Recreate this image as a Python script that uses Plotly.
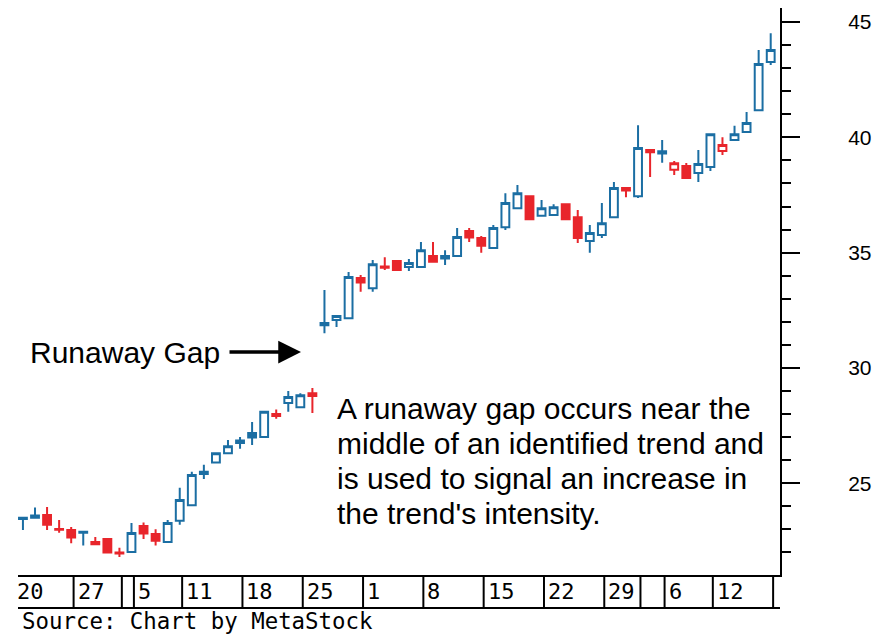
import plotly.graph_objects as go

# ---- data: one candle per trading day (index 0..62) ----
opens = [23.45, 23.5, 23.62, 23.02, 22.97, 22.85, 22.45, 22.58, 22.0, 22.02,
         23.15, 22.8, 22.45, 23.37, 24.05, 25.4, 25.9, 26.3, 26.75, 27.18,
         27.0, 28.0, 28.48, 28.3, 28.9, 31.95, 32.08, 32.16, 33.9, 33.46,
         34.4, 34.64, 34.38, 34.38, 34.85, 34.85, 34.85, 35.94, 35.63, 35.2,
         36.1, 36.93, 37.45, 36.6, 36.63, 37.1, 36.54, 35.5, 35.76, 36.54,
         37.8, 37.45, 39.45, 39.3, 38.6, 38.76, 38.45, 38.71, 39.41, 39.88,
         40.23, 41.18, 43.27]
highs = [23.5, 23.95, 23.97, 23.4, 23.1, 22.92, 22.67, 22.6, 22.2, 23.27,
         23.3, 23.0, 23.4, 24.8, 25.5, 25.8, 26.3, 26.87, 27.0, 27.65,
         28.1, 28.2, 29.0, 28.9, 29.13, 33.38, 32.25, 34.16, 34.03, 34.68,
         34.8, 34.64, 34.72, 35.46, 35.46, 35.1, 36.07, 36.07, 35.72, 36.2,
         37.58, 37.93, 37.45, 37.28, 37.1, 37.1, 36.85, 36.2, 37.15, 38.06,
         37.8, 40.53, 39.45, 39.88, 38.97, 38.89, 39.45, 40.14, 40.0, 40.5,
         41.1, 43.79, 44.52]
lows = [22.97, 23.5, 22.97, 22.85, 22.4, 22.3, 22.33, 21.98, 21.8, 22.0,
        22.58, 22.3, 22.45, 23.2, 24.05, 25.18, 25.9, 26.3, 26.5, 26.66,
        27.0, 27.8, 28.1, 28.3, 28.05, 31.5, 31.77, 32.16, 33.3, 33.3,
        34.25, 34.25, 34.2, 34.38, 34.6, 34.46, 34.85, 35.46, 35.0, 35.2,
        35.98, 36.93, 36.45, 36.6, 36.63, 36.45, 35.42, 35.0, 35.63, 36.54,
        37.4, 37.37, 38.28, 38.9, 38.37, 38.24, 38.06, 38.54, 39.23, 39.88,
        40.23, 41.18, 43.14]
closes = [23.5, 23.6, 23.2, 22.98, 22.65, 22.9, 22.35, 22.0, 21.95, 22.84,
          22.82, 22.5, 23.27, 24.27, 25.36, 25.5, 26.3, 26.6, 26.85, 26.98,
          28.1, 27.92, 28.74, 28.82, 28.78, 31.85, 32.25, 33.94, 33.7, 34.5,
          34.35, 34.25, 34.55, 35.1, 34.6, 34.75, 35.68, 35.66, 35.3, 36.07,
          37.15, 37.58, 36.45, 36.93, 36.97, 36.45, 35.63, 35.85, 36.28, 37.8,
          37.7, 39.54, 39.35, 39.4, 38.88, 38.24, 38.84, 40.14, 39.67, 40.14,
          40.62, 43.18, 43.79]

week_labels = ["20", "27", "5", "11", "18", "25", "1", "8", "15", "22", "29", "6", "12"]
week_start_idx = [0, 5, 10, 14, 19, 24, 29, 34, 39, 44, 49, 54, 58]
month_start_idx = [9, 52]
end_idx = 63

y_major = [25, 30, 35, 40, 45]

note_lines = ["A runaway gap occurs near the",
              "middle of an identified trend and",
              "is used to signal an increase in",
              "the trend's intensity."]

BLUE = "#1b6ea3"
RED = "#e8252b"

# ---- geometry (page pixels; the page body has an 8px margin) ----
PAGE_W, PAGE_H = 886, 636
OFF = 8
PLOT_L, PLOT_R, PLOT_T, PLOT_B = 18, 780, 8, 575
W, H = PAGE_W - OFF, PAGE_H - OFF
ML, MT = PLOT_L - OFF, PLOT_T - OFF
MR, MB = PAGE_W - PLOT_R, PAGE_H - PLOT_B
PW, PH = PLOT_R - PLOT_L, PLOT_B - PLOT_T
XR = [-0.41, 62.77]
YR = [21.02, 45.61]


def px_x(px):
    return (px - PLOT_L) / PW


def px_y(py):
    return (PLOT_B - py) / PH


def idx_x(i):
    return (i - XR[0]) / (XR[1] - XR[0])


SEP = 0.8  # separator sits this far left of a week's first candle

n = len(closes)
days = list(range(n))
up_day = [i == 0 or closes[i] >= closes[i - 1] for i in days]

fig = go.Figure()
for flag, col in ((True, BLUE), (False, RED)):
    ids = [i for i in days if up_day[i] == flag]
    fig.add_trace(go.Candlestick(
        x=ids,
        open=[opens[i] for i in ids],
        high=[highs[i] for i in ids],
        low=[lows[i] for i in ids],
        close=[closes[i] for i in ids],
        increasing=dict(line=dict(color=col, width=2), fillcolor="white"),
        decreasing=dict(line=dict(color=col, width=2), fillcolor=col),
        whiskerwidth=0, hoverinfo="skip", showlegend=False,
    ))

shapes = []
box_bottom = px_y(608)
for s in week_start_idx[1:] + month_start_idx + [end_idx]:
    xp = idx_x(s - SEP)
    shapes.append(dict(type="line", xref="paper", yref="paper", x0=xp, x1=xp,
                       y0=0, y1=box_bottom, line=dict(color="black", width=2)))
shapes.append(dict(type="line", xref="paper", yref="paper", x0=0, x1=1,
                   y0=box_bottom, y1=box_bottom, line=dict(color="black", width=2)))

annotations = []
for lab, s in zip(week_labels, week_start_idx):
    annotations.append(dict(text=lab, xref="paper", yref="paper", x=idx_x(s - SEP), xshift=2,
                            y=px_y(591.5), xanchor="left", yanchor="middle", showarrow=False,
                            font=dict(family="DejaVu Sans Mono", size=22, color="black")))

annotations.append(dict(text="Source: Chart by MetaStock", xref="paper", yref="paper",
                        x=px_x(20), y=px_y(621), xanchor="left", yanchor="middle",
                        showarrow=False,
                        font=dict(family="DejaVu Sans Mono", size=22.4, color="black")))

annotations.append(dict(text="Runaway Gap", xref="paper", yref="paper",
                        x=px_x(28), y=px_y(352), xanchor="left", yanchor="middle",
                        showarrow=False,
                        font=dict(family="Liberation Sans, Arial", size=30, color="black")))
annotations.append(dict(text="", xref="paper", yref="paper", x=px_x(301), y=px_y(352),
                        ax=-73, ay=0, showarrow=True, arrowhead=2, arrowsize=1.3,
                        arrowwidth=3.5, arrowcolor="black"))

for k, line in enumerate(note_lines):
    annotations.append(dict(
        text=line, xref="paper", yref="paper", x=px_x(335), y=px_y(408 + 35.3 * k),
        xanchor="left", yanchor="middle", showarrow=False,
        font=dict(family="Liberation Sans, Arial", size=30, color="black")))

fig.update_layout(
    width=W, height=H, margin=dict(l=ML, r=MR, t=MT, b=MB, pad=0),
    paper_bgcolor="white", plot_bgcolor="white", showlegend=False,
    boxgap=0.35, boxgroupgap=0,
    shapes=shapes, annotations=annotations,
)
fig.update_xaxes(range=XR, showgrid=False, zeroline=False, showticklabels=False,
                 ticks="", showline=True, linecolor="black", linewidth=2,
                 rangeslider=dict(visible=False), fixedrange=True)
fig.update_yaxes(side="right", range=YR, tickmode="array", tickvals=y_major,
                 ticks="outside", ticklen=18, tickwidth=2, tickcolor="black",
                 showline=True, linecolor="black", linewidth=2,
                 showgrid=False, zeroline=False, fixedrange=True,
                 tickfont=dict(family="Liberation Sans, Arial", size=21, color="black"),
                 ticklabelstandoff=44,
                 minor=dict(tickmode="linear", tick0=0, dtick=1, ticks="outside",
                            ticklen=9, tickwidth=2, tickcolor="black", showgrid=False))

fig.write_html("out.html")
